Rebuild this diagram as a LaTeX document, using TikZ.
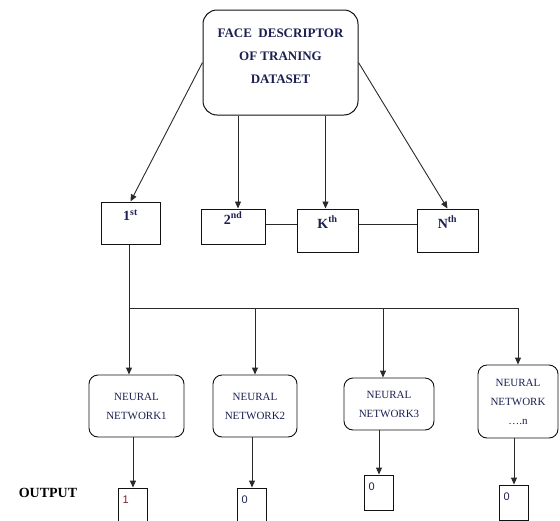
\documentclass[tikz,border=0pt]{standalone}
\usepackage{fontspec}
\setmainfont{Liberation Serif}
\setsansfont{Liberation Sans}
\usetikzlibrary{arrows.meta,positioning}
\definecolor{Ink}{HTML}{111111}
\definecolor{Wire}{HTML}{2A2A2A}
\definecolor{Navy}{HTML}{1B2050}
\definecolor{Wine}{HTML}{7A1E2B}
\tikzset{
  source/.style={
    rounded corners=14pt, draw=Ink, line width=1pt, fill=white,
    minimum width=155pt, minimum height=105pt, align=center, text=Navy,
    font=\fontsize{13}{23}\selectfont\bfseries, text depth=12pt
  },
  part/.style={
    draw=Ink, line width=1pt, fill=white, text height=10pt, text depth=15pt,
    font=\fontsize{14}{16}\selectfont\bfseries, text=Navy
  },
  network/.style={
    rounded corners=9pt, draw=Ink, line width=0.9pt, fill=white,
    align=center, font=\fontsize{11}{19}\selectfont, text=Navy
  },
  result/.style={
    draw=Ink, line width=0.9pt, inner sep=4pt, text width=21pt, align=left,
    text height=8pt, text depth=13pt, font=\sffamily\fontsize{11}{12}\selectfont
  },
  flow/.style={-{Triangle[length=7pt,width=6pt]}, draw=Wire, line width=0.9pt},
  link/.style={draw=Wire, line width=0.9pt}
}

\begin{document}
\begin{tikzpicture}[x=1pt,y=-1pt]
    \useasboundingbox (0,0) rectangle (560,520);
    % source and the four parts
    \node[source] (face) at (280.5,62.5) {FACE\ \ DESCRIPTOR\\OF TRANING\\DATASET};
    \node[part,minimum width=59pt,minimum height=42pt] (first) at (130.5,223) {1\textsuperscript{st}};
    \node[part,minimum width=64pt,minimum height=35pt] (second) at (233,226.5) {2\textsuperscript{nd}};
    \node[part,minimum width=61pt,minimum height=43pt] (kth) at (327.5,230.5) {K\textsuperscript{th}};
    \node[part,minimum width=61pt,minimum height=43pt] (nth) at (447.5,230.5) {N\textsuperscript{th}};
    \draw[flow] (face.west)--(first.north);
    \draw[flow] ([xshift=5pt]second.north |- face.south)--([xshift=5pt]second.north);
    \draw[flow] ([xshift=-2pt]kth.north |- face.south)--([xshift=-2pt]kth.north);
    \draw[flow] (face.east)--(nth.north);
    \draw[link] ([yshift=2.5pt]second.east)--([yshift=2.5pt]second.east -| kth.west);
    \draw[link] ([yshift=6.5pt]kth.east)--([yshift=6.5pt]kth.east -| nth.west);
    % networks
    \node[network,minimum width=95pt,minimum height=62pt] (nn1) at (136.5,406) {NEURAL\\NETWORK1};
    \node[network,minimum width=84pt,minimum height=62pt] (nn2) at (255,406) {NEURAL\\NETWORK2};
    \node[network,minimum width=90pt,minimum height=52pt] (nn3) at (389,404) {NEURAL\\NETWORK3};
    \node[network,minimum width=80pt,minimum height=73pt] (nn4) at (518,401.5) {NEURAL\\NETWORK\\….n};
    \coordinate (bus) at (129,308);
    \draw[link] (first.south -| bus)--(bus)--(bus -| nn4.north);
    \draw[flow] (bus)--(bus |- nn1.north);
    \draw[flow] (bus -| nn2.north)--(nn2.north);
    \draw[flow] ([xshift=-6pt]bus -| nn3.north)--([xshift=-6pt]nn3.north);
    \draw[flow] (bus -| nn4.north)--(nn4.north);
    % outputs
    \node[font=\fontsize{14}{16}\selectfont\bfseries] (outlabel) at (48,493) {OUTPUT};
    \node[result,minimum height=36pt,text=Wine] (out1) at (133,506) {1};
    \node[result,minimum height=36pt,text=Navy] (out2) at (252,506) {0};
    \node[result,minimum height=35pt,text=Navy] (out3) at (379,492.5) {0};
    \node[result,minimum height=35pt,text=Navy] (out4) at (514,502.5) {0};
    \foreach \i in {1,...,4}
      \draw[flow] (nn\i.south -| out\i.north)--(out\i.north);
\end{tikzpicture}
\end{document}
